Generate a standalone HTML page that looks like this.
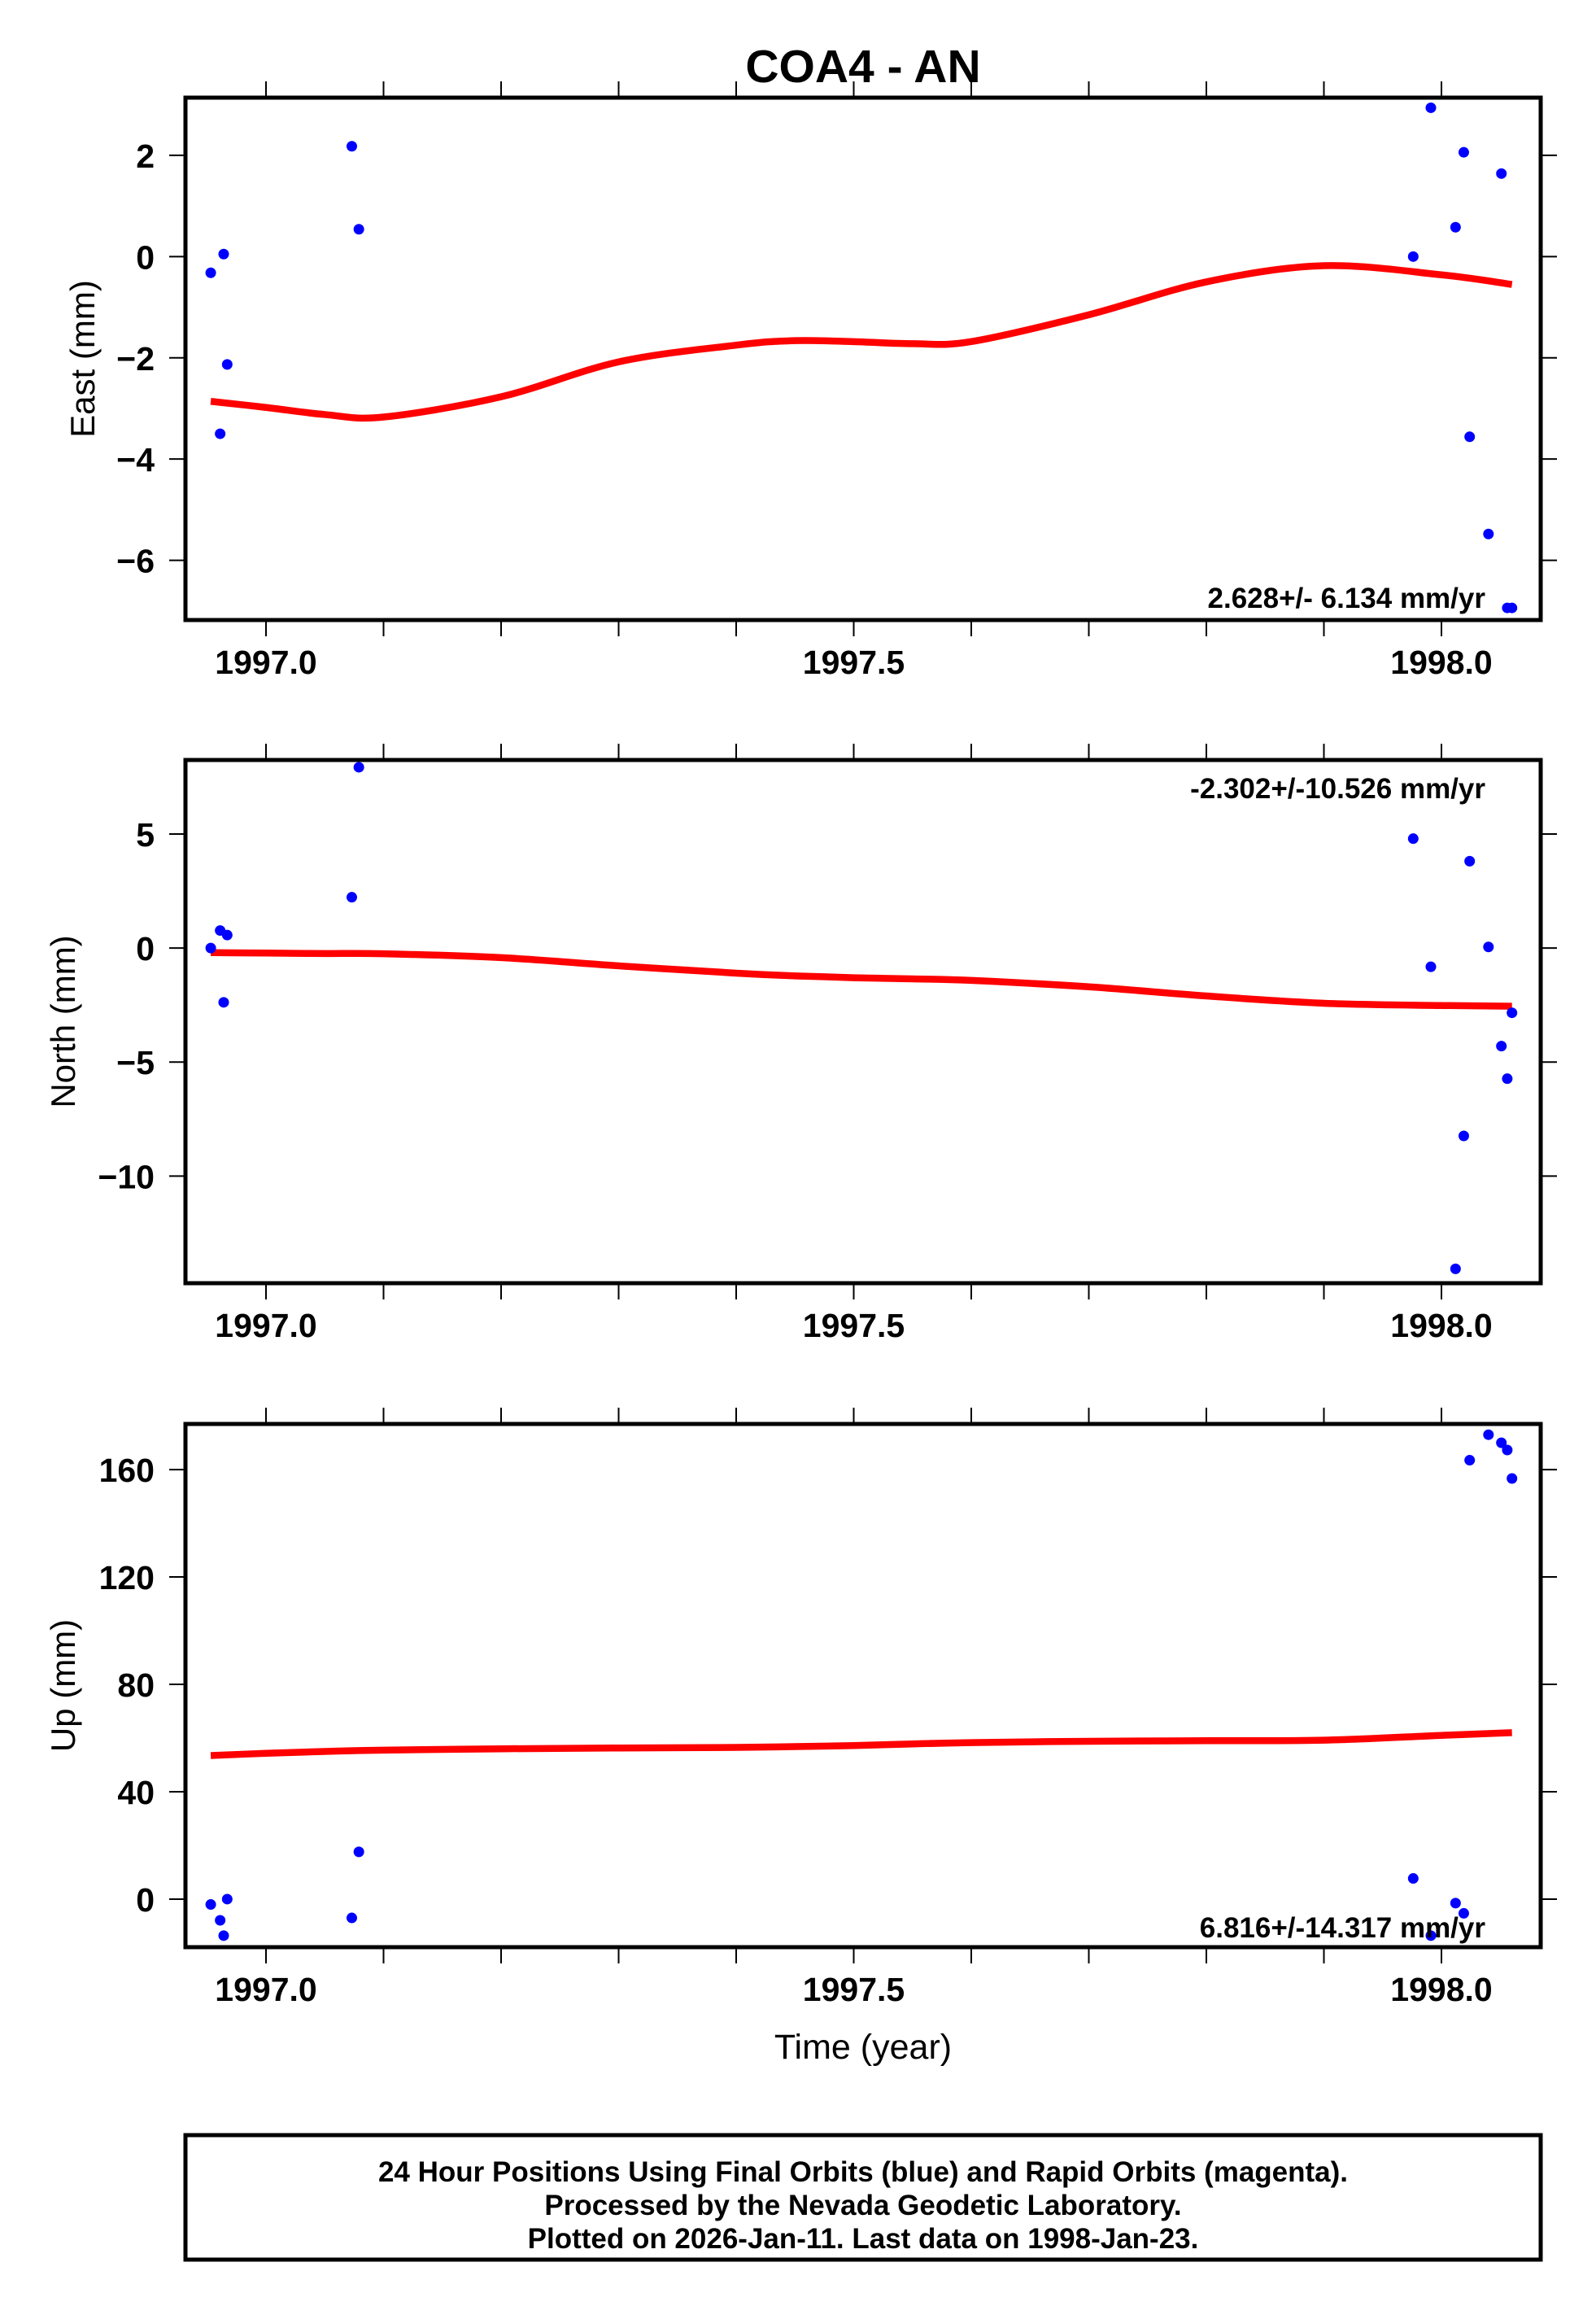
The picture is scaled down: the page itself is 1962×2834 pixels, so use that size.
<!DOCTYPE html>
<html><head><meta charset="utf-8"><style>
html,body{margin:0;padding:0;background:#fff;}
svg{display:block;font-family:"Liberation Sans",Arial,sans-serif;}
</style></head><body>
<svg id="chart" width="1962" height="2834" viewBox="0 0 1962 2834" xmlns="http://www.w3.org/2000/svg">
<text x="1061" y="101" font-size="57" font-weight="bold" text-anchor="middle">COA4 - AN</text>
<g id="panels"></g>
<text x="1061" y="2530" font-size="43" text-anchor="middle">Time (year)</text>
<rect x="228" y="2624" width="1666" height="153" fill="none" stroke="#000" stroke-width="5"/>
<text x="1061" y="2681" font-size="35" font-weight="bold" text-anchor="middle">24 Hour Positions Using Final Orbits (blue) and Rapid Orbits (magenta).</text>
<text x="1061" y="2722" font-size="35" font-weight="bold" text-anchor="middle">Processed by the Nevada Geodetic Laboratory.</text>
<text x="1061" y="2763" font-size="35" font-weight="bold" text-anchor="middle">Plotted on 2026-Jan-11. Last data on 1998-Jan-23.</text>
</svg>
<script>
const epochs=[1996.953,1996.961,1996.964,1996.967,1997.073,1997.079,1997.976,1997.991,1998.012,1998.019,1998.024,1998.040,1998.051,1998.056,1998.060];
const eastValues=[-0.32,-3.5,0.05,-2.13,2.18,0.54,0.0,2.94,0.58,2.06,-3.56,-5.48,1.64,-6.94,-6.94];
const northValues=[0.0,0.77,-2.38,0.57,2.23,7.93,4.8,-0.82,-14.07,-8.24,3.81,0.05,-4.3,-5.73,-2.84];
const upValues=[-2.0,-7.9,-13.6,0.0,-7.0,17.6,7.7,-13.6,-1.5,-5.3,163.5,173,170,167.3,156.7];
const fitYears=[1996.953,1997.0,1997.05,1997.1,1997.2,1997.3,1997.4,1997.45,1997.5,1997.55,1997.6,1997.7,1997.8,1997.9,1998.0,1998.06];
const eastFit=[-2.86,-2.98,-3.12,-3.17,-2.77,-2.08,-1.75,-1.66,-1.68,-1.72,-1.68,-1.15,-0.5,-0.18,-0.36,-0.55];
const northFit=[-0.2,-0.22,-0.24,-0.25,-0.42,-0.78,-1.1,-1.22,-1.3,-1.35,-1.42,-1.7,-2.1,-2.42,-2.52,-2.55];
const upFit=[53.5,54.3,55.0,55.5,56.0,56.3,56.5,56.8,57.2,57.8,58.3,58.8,59.0,59.2,61.0,62.0];
const eastTicks=[2,0,-2,-4,-6];
const northTicks=[5,0,-5,-10];
const upTicks=[0,40,80,120,160];
const xTickLabels=["1997.0","1997.5","1998.0"];
const xTickYears=[1997.0,1997.5,1998.0];
const rateLabels=["2.628+/- 6.134 mm/yr","-2.302+/-10.526 mm/yr","6.816+/-14.317 mm/yr"];

const NS="http://www.w3.org/2000/svg";
const X0=228,X1=1894;
function xScale(yr){return 327+1445*(yr-1997);}
function mk(tag,attrs,parent){const e=document.createElementNS(NS,tag);for(const k in attrs)e.setAttribute(k,attrs[k]);parent.appendChild(e);return e;}
const root=document.getElementById('panels');
const panels=[
 {key:'east',top:120,bot:762,vTop:3.14,vBot:-7.18,vals:eastValues,fit:eastFit,ticks:eastTicks,label:'East (mm)',lx:102,rateY:747},
 {key:'north',top:934,bot:1577,vTop:8.25,vBot:-14.7,vals:northValues,fit:northFit,ticks:northTicks,label:'North (mm)',lx:78,rateY:981},
 {key:'up',top:1750,bot:2393,vTop:177,vBot:-17.9,vals:upValues,fit:upFit,ticks:upTicks,label:'Up (mm)',lx:78,rateY:2381}
];
panels.forEach((p,pi)=>{
 const g=mk('g',{},root);
 
 
 const yScale=v=>p.top+(p.vTop-v)/(p.vTop-p.vBot)*(p.bot-p.top);
 for(let i=0;i<=11;i++){
  const yr=1997+i*0.1; const x=xScale(yr);
  if(x>X1) continue;
  const t1=mk('line',{x1:x,x2:x,y1:p.top-20,y2:p.top,stroke:'#000','stroke-width':2},g);
  
  
  const t2=mk('line',{x1:x,x2:x,y1:p.bot,y2:p.bot+20,stroke:'#000','stroke-width':2},g);
  
  
 }
 xTickLabels.forEach((lab,i)=>{
  const t=mk('text',{x:xScale(xTickYears[i]),y:p.bot+66,'font-size':41,'font-weight':'bold','text-anchor':'middle'},g);
  t.textContent=lab;
  
  
 });
 p.ticks.forEach(v=>{
  const y=yScale(v);
  const a=mk('line',{x1:X0-20,x2:X0,y1:y,y2:y,stroke:'#000','stroke-width':2},g);
  
  
  const b=mk('line',{x1:X1,x2:X1+20,y1:y,y2:y,stroke:'#000','stroke-width':2},g);
  
  
  const t=mk('text',{x:190,y:y+15,'font-size':41,'font-weight':'bold','text-anchor':'end'},g);
  t.textContent=String(v).replace('-','\u2212');
  
  
 });
 const cy=(p.top+p.bot)/2;
 const yl=mk('text',{x:p.lx,y:cy,'font-size':42,'text-anchor':'middle',transform:`rotate(-90 ${p.lx} ${cy})`,dy:14},g);
 yl.textContent=p.label;
 
 
 const pts=fitYears.map((yr,i)=>[xScale(yr),yScale(p.fit[i])]);
 let d=`M${pts[0][0]},${pts[0][1]}`;
 for(let i=0;i<pts.length-1;i++){
  const p0=pts[Math.max(0,i-1)],p1=pts[i],p2=pts[i+1],p3=pts[Math.min(pts.length-1,i+2)];
  const c1=[p1[0]+(p2[0]-p0[0])/6,p1[1]+(p2[1]-p0[1])/6];
  const c2=[p2[0]-(p3[0]-p1[0])/6,p2[1]-(p3[1]-p1[1])/6];
  d+=` C${c1[0]},${c1[1]} ${c2[0]},${c2[1]} ${p2[0]},${p2[1]}`;
 }
 const fl=mk('path',{d:d,fill:'none',stroke:'#ff0000','stroke-width':8.5},g);
 
 
 epochs.forEach((yr,i)=>{
  const c=mk('circle',{cx:xScale(yr),cy:yScale(p.vals[i]),r:6.5,fill:'#0000ff'},g);
  
  
 });
 const rt=mk('text',{x:1826,y:p.rateY,'font-size':35,'font-weight':'bold','text-anchor':'end'},g);
 rt.textContent=rateLabels[pi];
 
 
 const fr=mk('rect',{x:X0,y:p.top,width:X1-X0,height:p.bot-p.top,fill:'none',stroke:'#000','stroke-width':5},g);
 
 
});
</script>
</body></html>
